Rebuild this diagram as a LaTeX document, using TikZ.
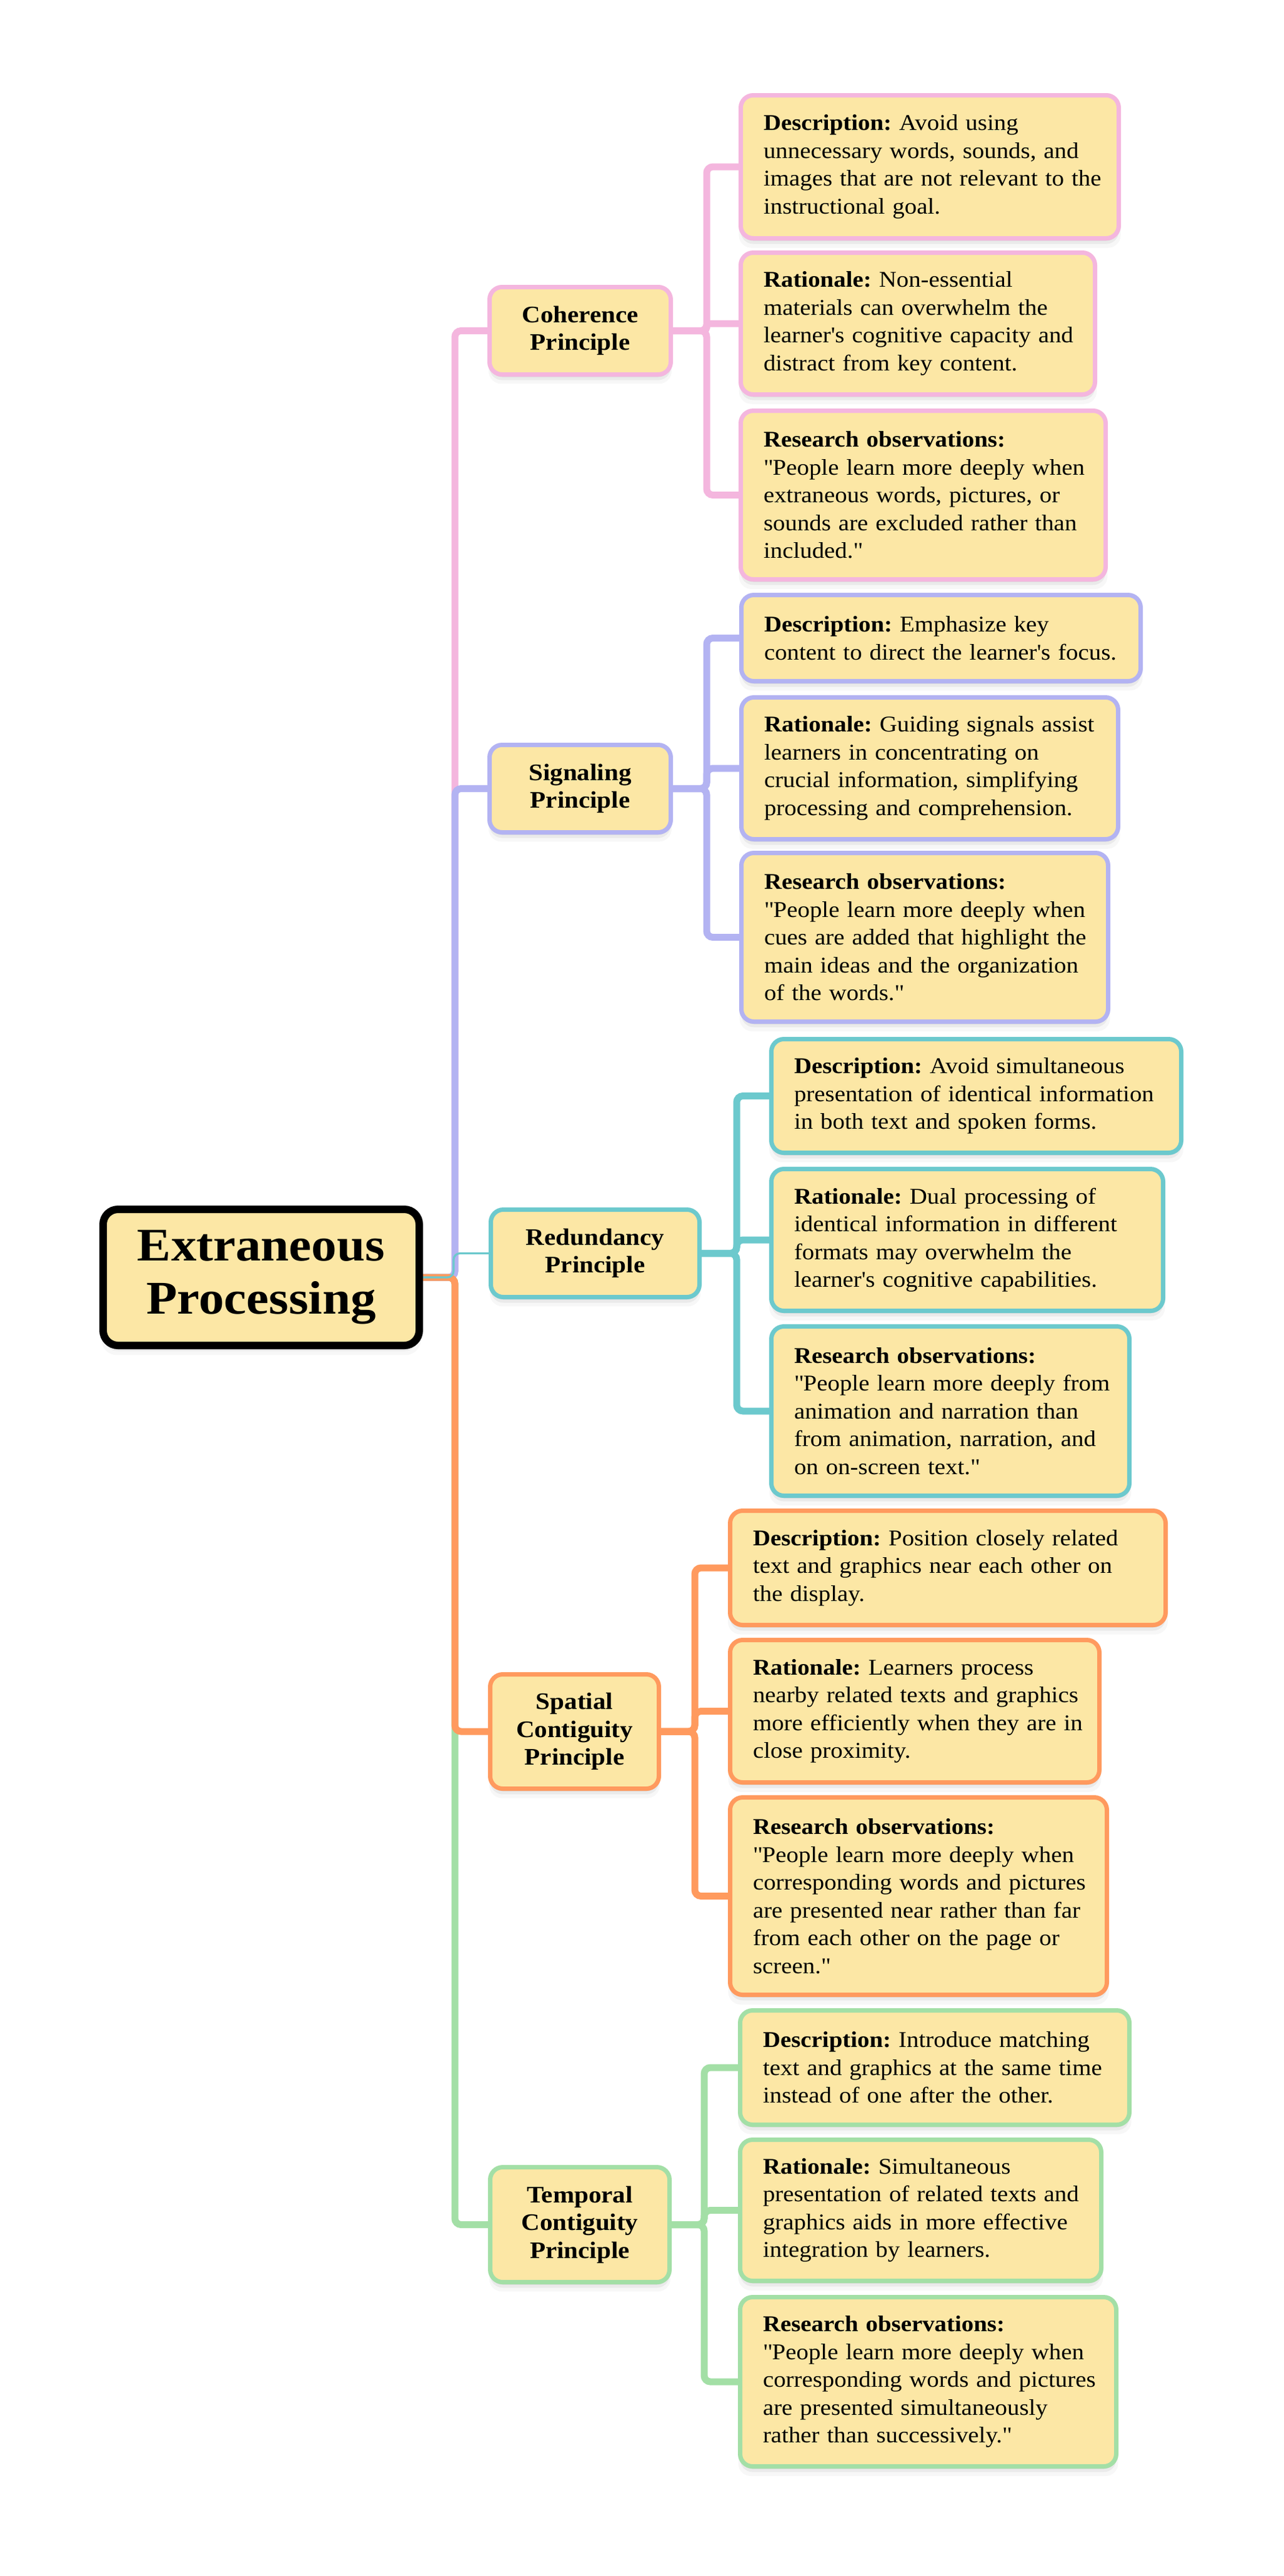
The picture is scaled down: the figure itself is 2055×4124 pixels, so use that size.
\documentclass[tikz,border=0pt]{standalone}
\usepackage{fontspec}
\setmainfont{Liberation Serif}[FakeStretch=1.08]
\usetikzlibrary{shadows,calc}
\pgfdeclarelayer{bg}
\pgfsetlayers{bg,main}
\definecolor{boxfill}{HTML}{FCE7A5}
\definecolor{cpink}{HTML}{F4B6DE}
\definecolor{cpurple}{HTML}{B3B3F2}
\definecolor{cteal}{HTML}{6CC9CD}
\definecolor{corange}{HTML}{FF9A5E}
\definecolor{cgreen}{HTML}{A3DFA6}
\newcommand\ap{\textquotesingle}
\newcommand\qq{\textquotedbl}
\newcommand\lineT[1]{\mbox{#1}}
\frenchspacing
\tikzset{
  softshadow/.style={
    general shadow={fill=black, opacity=0.07, shadow yshift=-2pt},
    general shadow={fill=black, opacity=0.05, shadow yshift=-4.5pt},
    general shadow={fill=black, opacity=0.03, shadow yshift=-7pt, shadow scale=1.01}},
  rootbox/.style={draw=black, fill=boxfill, line width=6pt, rounded corners=12pt,
    minimum width=253pt, minimum height=109pt, inner sep=0pt, align=center,
    font=\fontsize{37.5pt}{42.5pt}\selectfont\bfseries, softshadow},
  princ/.style={draw=#1, fill=boxfill, line width=3.5pt, rounded corners=10pt,
    inner sep=0pt, align=center, anchor=west,
    font=\fontsize{19pt}{22.25pt}\selectfont\bfseries, softshadow},
  detail/.style={draw=#1, fill=boxfill, line width=3.5pt, rounded corners=10pt,
    inner xsep=18.25pt, inner ysep=0pt, align=left, anchor=west,
    font=\fontsize{18pt}{22.25pt}\selectfont\frenchspacing, softshadow},
  conn/.style={draw=#1, line width=5.5pt, rounded corners=5pt},
  thinconn/.style={draw=#1, line width=1.6pt, rounded corners=5pt}
}
\begin{document}
\begin{tikzpicture}[x=0.5pt,y=-0.5pt]
\useasboundingbox (0,0) rectangle (2055,4124);

% root
\node[rootbox] (root) at (418,2045) {Extraneous\\Processing};

% principle nodes
\node[princ=cpink, minimum width=145pt, minimum height=70pt] (coh) at (780,529.5) {Coherence\\Principle};
\node[princ=cpurple, minimum width=145pt, minimum height=70pt] (sig) at (780,1262.5) {Signaling\\Principle};
\node[princ=cteal, minimum width=167pt, minimum height=70pt] (red) at (782,2006.5) {Redundancy\\Principle};
\node[princ=corange, minimum width=135pt, minimum height=91.5pt] (spa) at (781,2772) {Spatial\\Contiguity\\Principle};
\node[princ=cgreen, minimum width=143.5pt, minimum height=92pt] (tem) at (781,3561.5) {Temporal\\Contiguity\\Principle};

% Coherence details
\node[detail=cpink, text width=266pt, minimum height=114.5pt] (cohD) at (1182,267) {%
\lineT{\textbf{Description:} Avoid using}\\
\lineT{unnecessary words, sounds, and}\\
\lineT{images that are not relevant to the}\\
\lineT{instructional goal.}};
\node[detail=cpink, text width=247pt, minimum height=113.5pt] (cohR) at (1182,518) {%
\lineT{\textbf{Rationale:} Non-essential}\\
\lineT{materials can overwhelm the}\\
\lineT{learner\ap s cognitive capacity and}\\
\lineT{distract from key content.}};
\node[detail=cpink, text width=255.5pt, minimum height=135pt] (cohS) at (1182,792.5) {%
\lineT{\textbf{Research observations:}}\\
\lineT{\qq People learn more deeply when}\\
\lineT{extraneous words, pictures, or}\\
\lineT{sounds are excluded rather than}\\
\lineT{included.\qq}};

% Signaling details
\node[detail=cpurple, text width=283pt, minimum height=69pt] (sigD) at (1183,1021.5) {%
\lineT{\textbf{Description:} Emphasize key}\\
\lineT{content to direct the learner\ap s focus.}};
\node[detail=cpurple, text width=265pt, minimum height=113.5pt] (sigR) at (1183,1230) {%
\lineT{\textbf{Rationale:} Guiding signals assist}\\
\lineT{learners in concentrating on}\\
\lineT{crucial information, simplifying}\\
\lineT{processing and comprehension.}};
\node[detail=cpurple, text width=257pt, minimum height=135pt] (sigS) at (1183,1500.5) {%
\lineT{\textbf{Research observations:}}\\
\lineT{\qq People learn more deeply when}\\
\lineT{cues are added that highlight the}\\
\lineT{main ideas and the organization}\\
\lineT{of the words.\qq}};

% Redundancy details
\node[detail=cteal, text width=291.5pt, minimum height=91pt] (redD) at (1231,1754.5) {%
\lineT{\textbf{Description:} Avoid simultaneous}\\
\lineT{presentation of identical information}\\
\lineT{in both text and spoken forms.}};
\node[detail=cteal, text width=277pt, minimum height=113.5pt] (redR) at (1231,1985) {%
\lineT{\textbf{Rationale:} Dual processing of}\\
\lineT{identical information in different}\\
\lineT{formats may overwhelm the}\\
\lineT{learner\ap s cognitive capabilities.}};
\node[detail=cteal, text width=250pt, minimum height=135.5pt] (redS) at (1231,2259) {%
\lineT{\textbf{Research observations:}}\\
\lineT{\qq People learn more deeply from}\\
\lineT{animation and narration than}\\
\lineT{from animation, narration, and}\\
\lineT{on on-screen text.\qq}};

% Spatial details
\node[detail=corange, text width=312pt, minimum height=91.5pt] (spaD) at (1165,2510) {%
\lineT{\textbf{Description:} Position closely related}\\
\lineT{text and graphics near each other on}\\
\lineT{the display.}};
\node[detail=corange, text width=259pt, minimum height=114pt] (spaR) at (1165,2739.5) {%
\lineT{\textbf{Rationale:} Learners process}\\
\lineT{nearby related texts and graphics}\\
\lineT{more efficiently when they are in}\\
\lineT{close proximity.}};
\node[detail=corange, text width=265pt, minimum height=158pt] (spaS) at (1165,3035.5) {%
\lineT{\textbf{Research observations:}}\\
\lineT{\qq People learn more deeply when}\\
\lineT{corresponding words and pictures}\\
\lineT{are presented near rather than far}\\
\lineT{from each other on the page or}\\
\lineT{screen.\qq}};

% Temporal details
\node[detail=cgreen, text width=275pt, minimum height=91.5pt] (temD) at (1181,3310) {%
\lineT{\textbf{Description:} Introduce matching}\\
\lineT{text and graphics at the same time}\\
\lineT{instead of one after the other.}};
\node[detail=cgreen, text width=252.5pt, minimum height=113pt] (temR) at (1181,3538.5) {%
\lineT{\textbf{Rationale:} Simultaneous}\\
\lineT{presentation of related texts and}\\
\lineT{graphics aids in more effective}\\
\lineT{integration by learners.}};
\node[detail=cgreen, text width=264.5pt, minimum height=135.5pt] (temS) at (1181,3813) {%
\lineT{\textbf{Research observations:}}\\
\lineT{\qq People learn more deeply when}\\
\lineT{corresponding words and pictures}\\
\lineT{are presented simultaneously}\\
\lineT{rather than successively.\qq}};

% bus coordinates
\coordinate (trunk) at (728,0);
\coordinate (bcoh) at (1131,0);
\coordinate (bsig) at (1131,0);
\coordinate (bred) at (1179,0);
\coordinate (bspa) at (1112,0);
\coordinate (btem) at (1127,0);

\begin{pgfonlayer}{bg}
\fill[white] (0,0) rectangle (2055,4124);
% root branches
\draw[conn=cpink] (root.east) -- (trunk |- root.east) -- (trunk |- coh.west) -- (coh.west);
\draw[conn=cgreen] (root.east) -- (trunk |- root.east) -- (trunk |- tem.west) -- (tem.west);
\draw[conn=cpurple] (root.east) -- (trunk |- root.east) -- (trunk |- sig.west) -- (sig.west);
\draw[conn=corange] (root.east) -- (trunk |- root.east) -- (trunk |- spa.west) -- (spa.west);
\draw[thinconn=cteal] (root.east) -- ($(trunk |- root.east)+(-2,0)$) -- ($(trunk |- red.west)+(-2,0)$) -- (red.west);

% coherence
\draw[conn=cpink] (coh.east) -- (bcoh |- coh.east) -- (bcoh |- cohD.west) -- (cohD.west);
\draw[conn=cpink, rounded corners=2.5pt] (coh.east) -- (bcoh |- coh.east) -- (bcoh |- cohR.west) -- (cohR.west);
\draw[conn=cpink] (coh.east) -- (bcoh |- coh.east) -- (bcoh |- cohS.west) -- (cohS.west);
% signaling
\draw[conn=cpurple] (sig.east) -- (bsig |- sig.east) -- (bsig |- sigD.west) -- (sigD.west);
\draw[conn=cpurple] (sig.east) -- (bsig |- sig.east) -- (bsig |- sigR.west) -- (sigR.west);
\draw[conn=cpurple] (sig.east) -- (bsig |- sig.east) -- (bsig |- sigS.west) -- (sigS.west);
% redundancy
\draw[conn=cteal] (red.east) -- (bred |- red.east) -- (bred |- redD.west) -- (redD.west);
\draw[conn=cteal] (red.east) -- (bred |- red.east) -- (bred |- redR.west) -- (redR.west);
\draw[conn=cteal] (red.east) -- (bred |- red.east) -- (bred |- redS.west) -- (redS.west);
% spatial
\draw[conn=corange] (spa.east) -- (bspa |- spa.east) -- (bspa |- spaD.west) -- (spaD.west);
\draw[conn=corange] (spa.east) -- (bspa |- spa.east) -- (bspa |- spaR.west) -- (spaR.west);
\draw[conn=corange] (spa.east) -- (bspa |- spa.east) -- (bspa |- spaS.west) -- (spaS.west);
% temporal
\draw[conn=cgreen] (tem.east) -- (btem |- tem.east) -- (btem |- temD.west) -- (temD.west);
\draw[conn=cgreen] (tem.east) -- (btem |- tem.east) -- (btem |- temR.west) -- (temR.west);
\draw[conn=cgreen] (tem.east) -- (btem |- tem.east) -- (btem |- temS.west) -- (temS.west);
\end{pgfonlayer}
\end{tikzpicture}
\end{document}
